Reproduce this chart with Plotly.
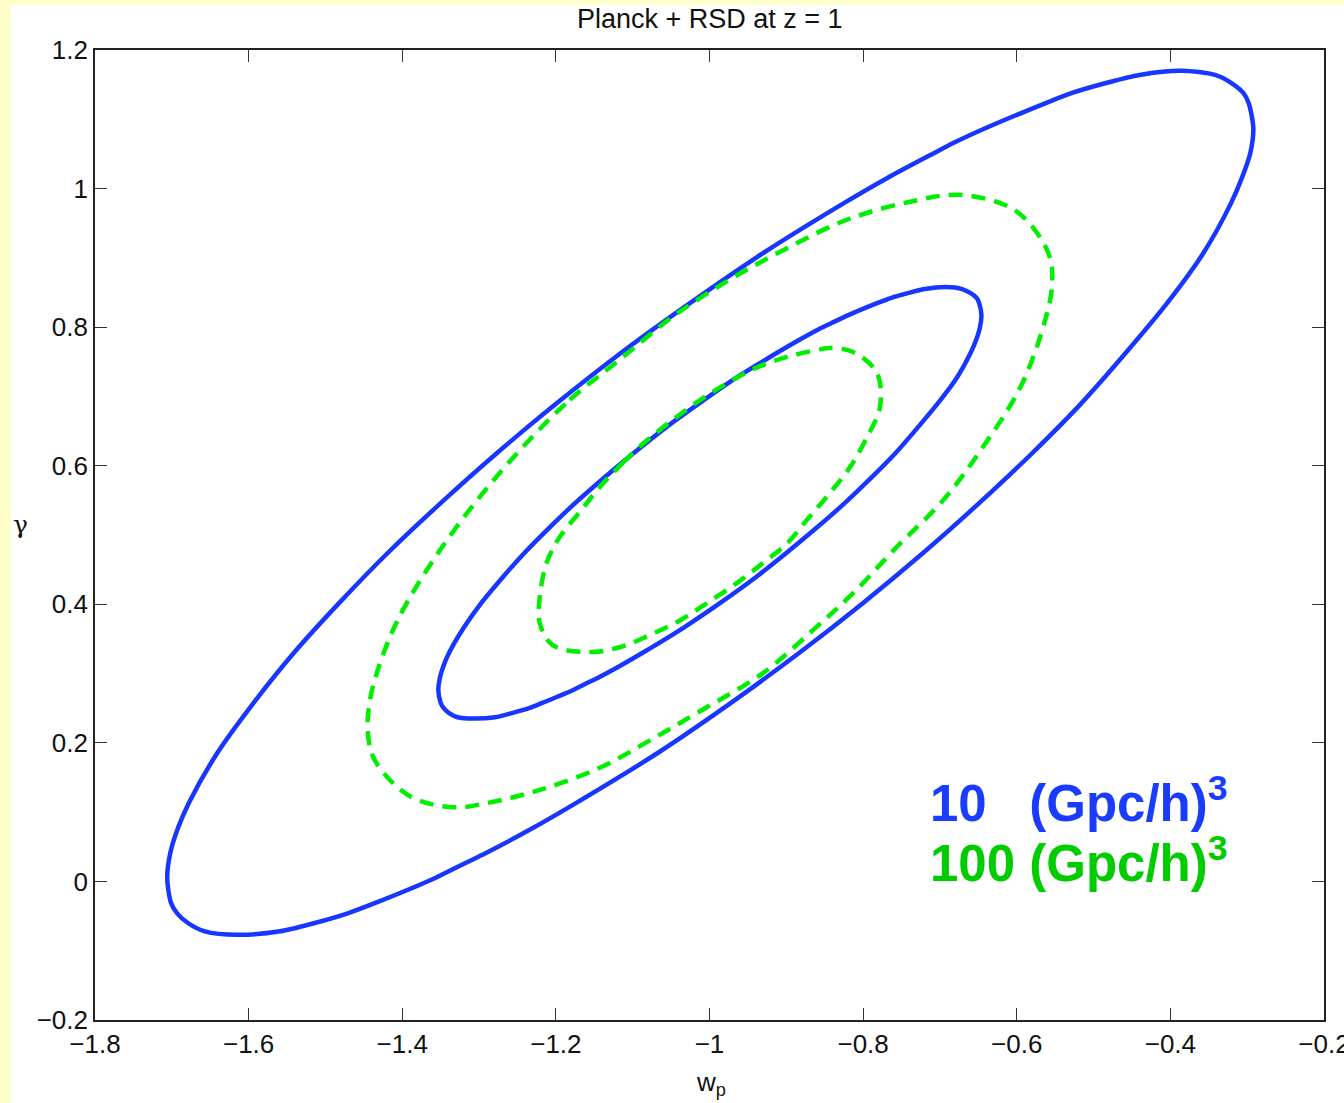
import plotly.graph_objects as go

# Outer blue contour (10 (Gpc/h)^3)
blue_outer_x = [-1.199, -1.277, -1.350, -1.419, -1.482, -1.541, -1.594, -1.641, -1.678, -1.692, -1.702, -1.706,
                -1.701, -1.693, -1.679, -1.657, -1.614, -1.559, -1.514, -1.471, -1.435, -1.357, -1.317, -1.291,
                -1.230, -1.174, -1.068, -0.973, -0.883, -0.800, -0.722, -0.649, -0.580, -0.516, -0.458, -0.404,
                -0.357, -0.321, -0.307, -0.296, -0.292, -0.298, -0.305, -0.320, -0.342, -0.385, -0.440, -0.485,
                -0.528, -0.563, -0.641, -0.682, -0.708, -0.769, -0.825, -0.930, -1.025, -1.115, -1.199]
blue_outer_y = [0.690, 0.618, 0.546, 0.474, 0.402, 0.330, 0.257, 0.185, 0.113, 0.077, 0.041, 0.005,
                -0.031, -0.046, -0.060, -0.072, -0.077, -0.072, -0.060, -0.046, -0.031, 0.005, 0.027, 0.041,
                0.077, 0.113, 0.185, 0.257, 0.330, 0.402, 0.474, 0.546, 0.618, 0.690, 0.763, 0.835,
                0.907, 0.979, 1.015, 1.051, 1.087, 1.123, 1.138, 1.152, 1.164, 1.170, 1.164, 1.152,
                1.138, 1.123, 1.087, 1.066, 1.051, 1.015, 0.979, 0.907, 0.835, 0.763, 0.690]

# Inner blue contour
blue_inner_x = [-1.099, -1.138, -1.175, -1.209, -1.241, -1.270, -1.297, -1.320, -1.339, -1.346, -1.351, -1.353,
                -1.350, -1.346, -1.339, -1.328, -1.307, -1.279, -1.257, -1.235, -1.217, -1.178, -1.158, -1.145,
                -1.115, -1.087, -1.034, -0.986, -0.941, -0.900, -0.861, -0.824, -0.790, -0.758, -0.729, -0.702,
                -0.678, -0.660, -0.653, -0.648, -0.646, -0.649, -0.652, -0.660, -0.671, -0.692, -0.720, -0.742,
                -0.764, -0.781, -0.820, -0.841, -0.854, -0.884, -0.912, -0.965, -1.012, -1.057, -1.099]
blue_inner_y = [0.618, 0.582, 0.546, 0.510, 0.474, 0.438, 0.402, 0.366, 0.330, 0.312, 0.294, 0.276,
                0.258, 0.250, 0.243, 0.237, 0.235, 0.237, 0.243, 0.250, 0.258, 0.276, 0.287, 0.294,
                0.312, 0.330, 0.366, 0.402, 0.438, 0.474, 0.510, 0.546, 0.582, 0.618, 0.655, 0.691,
                0.727, 0.763, 0.781, 0.799, 0.817, 0.835, 0.842, 0.849, 0.855, 0.858, 0.855, 0.849,
                0.842, 0.835, 0.817, 0.806, 0.799, 0.781, 0.763, 0.727, 0.691, 0.655, 0.618]

# Outer green dashed contour (100 (Gpc/h)^3)
green_outer_x = [-1.243, -1.182, -1.117, -1.048, -0.973, -0.899, -0.821, -0.739, -0.674, -0.609, -0.579, -0.557,
                 -0.554, -0.563, -0.594, -0.644, -0.696, -0.756, -0.813, -0.865, -0.930, -1.012, -1.077, -1.143,
                 -1.221, -1.290, -1.331, -1.381, -1.412, -1.438, -1.445, -1.442, -1.433, -1.416, -1.394, -1.351,
                 -1.299, -1.243]
green_outer_y = [0.627, 0.695, 0.753, 0.815, 0.869, 0.914, 0.955, 0.981, 0.991, 0.973, 0.944, 0.901,
                 0.861, 0.810, 0.716, 0.627, 0.550, 0.483, 0.416, 0.363, 0.301, 0.246, 0.204, 0.164,
                 0.132, 0.113, 0.107, 0.118, 0.142, 0.180, 0.219, 0.262, 0.301, 0.353, 0.402, 0.478,
                 0.555, 0.627]

# Inner green dashed contour
green_inner_x = [-1.143, -1.113, -1.081, -1.048, -1.012, -0.977, -0.938, -0.899, -0.860, -0.843, -0.813, -0.782,
                 -0.778, -0.795, -0.817, -0.843, -0.873, -0.899, -0.930, -0.964, -1.003, -1.038, -1.077, -1.117,
                 -1.158, -1.204, -1.221, -1.221, -1.212, -1.195, -1.169, -1.143]
green_inner_y = [0.569, 0.604, 0.637, 0.666, 0.695, 0.719, 0.742, 0.757, 0.767, 0.770, 0.764, 0.734,
                 0.685, 0.641, 0.598, 0.561, 0.522, 0.488, 0.460, 0.431, 0.402, 0.377, 0.356, 0.338,
                 0.331, 0.341, 0.373, 0.410, 0.460, 0.497, 0.533, 0.569]

x_ticks = [-1.8, -1.6, -1.4, -1.2, -1.0, -0.8, -0.6, -0.4, -0.2]
y_ticks = [-0.2, 0, 0.2, 0.4, 0.6, 0.8, 1.0, 1.2]

title_text = "Planck + RSD at z = 1"
label_blue = "10\u00a0\u00a0\u00a0(Gpc/h)<sup>3</sup>"
label_green = "100 (Gpc/h)<sup>3</sup>"

BLUE = "#1736ff"
GREEN = "#00ee00"
FONT = "Liberation Sans"

fig = go.Figure()
for xs, ys in [(blue_outer_x, blue_outer_y), (blue_inner_x, blue_inner_y)]:
    fig.add_trace(go.Scatter(x=xs, y=ys, mode="lines",
                             line=dict(color=BLUE, width=4.5, shape="spline", smoothing=0.8),
                             showlegend=False, hoverinfo="skip"))
for xs, ys in [(green_outer_x, green_outer_y), (green_inner_x, green_inner_y)]:
    fig.add_trace(go.Scatter(x=xs, y=ys, mode="lines",
                             line=dict(color=GREEN, width=4.5, dash="14px,9px", shape="spline", smoothing=1.0),
                             showlegend=False, hoverinfo="skip"))

axis_common = dict(showgrid=False, zeroline=False, showline=True, linecolor="#222222", linewidth=1.6,
                   mirror="ticks", ticks="inside", ticklen=12, tickwidth=1.3, tickcolor="#333333",
                   ticklabeloverflow="allow", automargin=False,
                   tickfont=dict(family=FONT, size=26, color="#111111"))

fig.update_xaxes(range=[-1.8, -0.2], tickvals=x_ticks, **axis_common)
fig.update_yaxes(range=[-0.2, 1.2], tickvals=y_ticks, **axis_common)

W, H = 1344, 1103
L, R, T, B = 95, 20, 50, 83
pw, ph = W - L - R, H - T - B

def px_x(p):
    return (p - L) / pw

def px_y(p):
    return (H - B - p) / ph

shapes = [
    dict(type="rect", xref="paper", yref="paper", x0=px_x(0), x1=px_x(11), y0=px_y(H), y1=px_y(0),
         fillcolor="#ffffcc", line=dict(width=0), layer="below"),
    dict(type="rect", xref="paper", yref="paper", x0=px_x(0), x1=px_x(W), y0=px_y(5), y1=px_y(0),
         fillcolor="#ffffcc", line=dict(width=0), layer="below"),
]

annotations = [
    dict(text=title_text, xref="paper", yref="paper", x=0.5, y=px_y(19), xanchor="center", yanchor="middle",
         showarrow=False, font=dict(family=FONT, size=27, color="#111111")),
    dict(text="w<sub>p</sub>", xref="paper", yref="paper", x=px_x(711), y=px_y(1083), xanchor="center",
         yanchor="middle", showarrow=False, font=dict(family=FONT, size=26, color="#111111")),
    dict(text="\u03b3", xref="paper", yref="paper", x=px_x(20), y=px_y(524), xanchor="center",
         yanchor="middle", showarrow=False, font=dict(family="DejaVu Serif", size=25, color="#111111")),
    dict(text="<b>" + label_blue + "</b>", xref="paper", yref="paper", x=px_x(928), y=px_y(800),
         xanchor="left", yanchor="middle", showarrow=False, font=dict(family=FONT, size=51, color="#1a3cff")),
    dict(text="<b>" + label_green + "</b>", xref="paper", yref="paper", x=px_x(928), y=px_y(860),
         xanchor="left", yanchor="middle", showarrow=False, font=dict(family=FONT, size=51, color="#00cc00")),
]

fig.update_layout(width=W, height=H, margin=dict(l=L, r=R, t=T, b=B, autoexpand=False),
                  paper_bgcolor="white", plot_bgcolor="white",
                  shapes=shapes, annotations=annotations, showlegend=False)

fig.write_html("out.html")
